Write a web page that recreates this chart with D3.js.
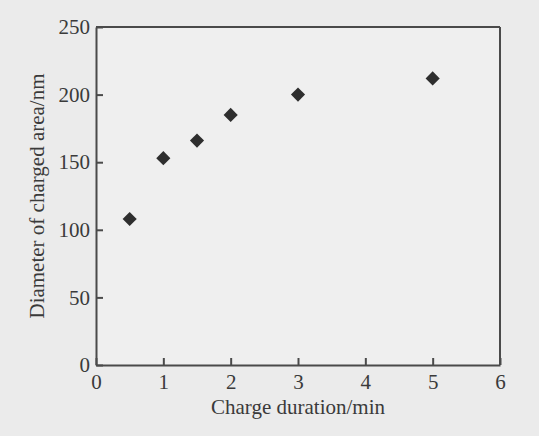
<!DOCTYPE html>
<html>
<head>
<meta charset="utf-8">
<script src="https://cdn.jsdelivr.net/npm/d3@7"></script>
<style>
  body { margin: 0; background: #ebebeb; }
  svg { display: block; }
  text { font-family: "Liberation Serif", "Times New Roman", serif; fill: #3a3a3a; }
</style>
</head>
<body>
<svg id="chart" width="539" height="436"></svg>
<script>
// data
const durations = [0.5, 1, 1.5, 2, 3, 5];
const diameters = [108, 153, 166, 185, 200, 212];
const xTicks = [0, 1, 2, 3, 4, 5, 6];
const yTicks = [0, 50, 100, 150, 200, 250];

const margin = {top: 27, right: 39, bottom: 71, left: 96};
const width = 539 - margin.left - margin.right;
const height = 436 - margin.top - margin.bottom;

const svg = d3.select("#chart");
svg.append("rect").attr("width", 539).attr("height", 436).attr("fill", "#ebebeb");

const g = svg.append("g")
    .attr("transform", "translate(" + margin.left + "," + margin.top + ")");

const x = d3.scaleLinear().domain([0, 6]).range([0, width]);
const y = d3.scaleLinear().domain([0, 250]).range([height, 0]);

g.append("rect")
    .attr("width", width).attr("height", height)
    .attr("fill", "#efefef");

// bottom axis, ticks pointing inward
const xAxis = g.append("g")
    .attr("transform", "translate(0," + height + ")")
    .call(d3.axisBottom(x).tickValues(xTicks).tickFormat(d3.format("d"))
        .tickSizeInner(-7).tickSizeOuter(0).tickPadding(9));

// left axis
const yAxis = g.append("g")
    .call(d3.axisLeft(y).tickValues(yTicks).tickFormat(d3.format("d"))
        .tickSizeInner(-7).tickSizeOuter(0).tickPadding(6));

[xAxis, yAxis].forEach(function(a) {
    a.select(".domain").attr("stroke", "#4a4a4a").attr("stroke-width", 2);
    a.selectAll(".tick line").attr("stroke", "#4a4a4a").attr("stroke-width", 2);
    a.selectAll("text")
        .attr("fill", "#3a3a3a")
        .style("font-family", "'Liberation Serif', serif")
        .style("font-size", "21px");
});

// frame top and right
g.append("line").attr("x1", 0).attr("x2", width).attr("y1", 0).attr("y2", 0)
    .attr("stroke", "#4a4a4a").attr("stroke-width", 2);
g.append("line").attr("x1", width).attr("x2", width).attr("y1", 0).attr("y2", height)
    .attr("stroke", "#4a4a4a").attr("stroke-width", 2);

// diamond markers
const diamond = d3.symbol().type(d3.symbolSquare).size(100);
g.selectAll(".pt")
    .data(durations)
    .enter().append("path")
    .attr("class", "pt")
    .attr("d", diamond)
    .attr("fill", "#2e2e2e")
    .attr("transform", function(d, i) {
        return "translate(" + x(d) + "," + y(diameters[i]) + ") rotate(45)";
    });

// axis titles
svg.append("text")
    .attr("x", margin.left + width / 2)
    .attr("y", 414)
    .attr("text-anchor", "middle")
    .style("font-size", "21px")
    .text("Charge duration/min");

svg.append("text")
    .attr("transform", "translate(44," + (margin.top + height / 2) + ") rotate(-90)")
    .attr("text-anchor", "middle")
    .style("font-size", "21px")
    .text("Diameter of charged area/nm");
</script>
</body>
</html>
